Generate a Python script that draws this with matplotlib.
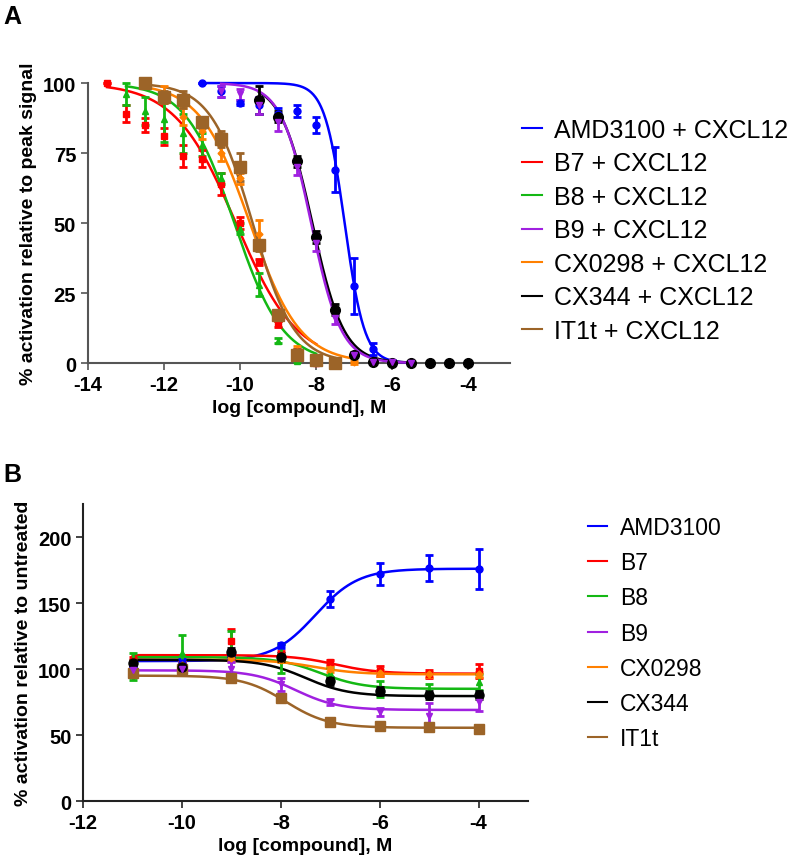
import numpy as np
import matplotlib
matplotlib.use("Agg")
import matplotlib.pyplot as plt
from matplotlib.lines import Line2D

plt.rcParams['font.family'] = ['Liberation Sans', 'DejaVu Sans']
plt.rcParams['axes.unicode_minus'] = False

# ---------------- Panel A data ----------------
a_names = ["AMD3100 + CXCL12", "B7 + CXCL12", "B8 + CXCL12", "B9 + CXCL12",
           "CX0298 + CXCL12", "CX344 + CXCL12", "IT1t + CXCL12"]
colors = ["#0000ff", "#ff0000", "#14b814", "#a020e0", "#ff8000", "#000000", "#9c6428"]
markers = ["o", "s", "^", "v", "D", "o", "s"]
msizes_a = [5, 5, 5, 5, 3.5, 7, 9]
msizes_b = [5, 5, 5, 5, 3.5, 6.5, 7.5]

a_blue_x = [-11, -10.5, -10, -9.5, -9, -8.5, -8, -7.5, -7, -6.5, -6, -5.5]
a_blue_y = [100, 97, 93, 92, 89, 90, 85, 69, 27.5, 5, 0.5, 0]
a_blue_e = [0, 2, 1, 3, 2, 2, 3, 8, 10, 2, 0.5, 0]

a_red_x = [-13.5, -13, -12.5, -12, -11.5, -11, -10.5, -10, -9.5, -9, -8.5, -8]
a_red_y = [100, 89, 85, 81, 74, 73, 64, 50, 36, 14, 4, 0]
a_red_e = [0, 3, 2.5, 3, 4, 3, 4, 2, 1, 1, 1, 0.5]

a_green_x = [-13, -12.5, -12, -11.5, -11, -10.5, -10, -9.5, -9, -8.5]
a_green_y = [96, 90, 87, 82, 78, 66, 48, 28, 8, 0.7]
a_green_e = [4, 5, 8, 7, 4, 2, 2, 4, 1, 0.5]

a_purple_x = [-10.5, -10, -9.5, -9, -8.5, -8, -7.5, -7, -6.5, -6, -5.5]
a_purple_y = [97, 96, 92, 86, 70, 43, 16, 3, 0.5, 0.3, 0]
a_purple_e = [2, 2, 3, 3, 3, 3, 2, 1, 0.5, 0.5, 0]

a_orange_x = [-12.5, -12, -11.5, -11, -10.5, -10, -9.5, -9, -8.5, -8, -7]
a_orange_y = [100, 96, 88, 83, 75, 66, 46, 17, 4, 1, 0.3]
a_orange_e = [0, 3, 3, 3, 3, 2, 5, 2, 2, 1, 0.5]

a_black_x = [-9.5, -9, -8.5, -8, -7.5, -7, -6.5, -6, -5.5, -5, -4.5, -4]
a_black_y = [94, 88, 72, 45, 19, 3, 0.5, 0, 0, 0, 0, 0]
a_black_e = [5, 2, 2, 2, 2, 1, 0, 0, 0, 0, 0, 0]

a_brown_x = [-12.5, -12, -11.5, -11, -10.5, -10, -9.5, -9, -8.5, -8, -7.5]
a_brown_y = [100, 95, 94, 86, 80, 70, 42, 17, 3, 1, 0]
a_brown_e = [0.5, 2, 3, 2, 3, 5, 2, 2, 2, 1, 0.5]

# fitted-curve parameters
a_fit_top = [100, 100, 100, 100, 100, 100, 100]
a_fit_bottom = [0, 0, 0, 0, 0, 0, 0]
a_fit_logic50 = [-7.25, -10.11, -10.15, -8.13, -9.74, -8.1, -9.67]
a_fit_hill = [1.66, 0.54, 0.68, 1.1, 0.66, 1.05, 0.79]
a_fit_xmin = [-11, -13.5, -13, -10.5, -12.5, -9.5, -12.5]
a_fit_xmax = [-5.5, -8, -8, -5.5, -7, -5.5, -7.5]

# ---------------- Panel B data ----------------
b_names = ["AMD3100", "B7", "B8", "B9", "CX0298", "CX344", "IT1t"]
b_x = [-11, -10, -9, -8, -7, -6, -5, -4]
b_blue_y = [102, 104.5, 111, 118, 153, 172, 176.5, 176]
b_blue_e = [3, 3, 3, 2, 6, 8, 10, 15]
b_red_y = [106, 102, 121, 111, 105, 98.5, 96, 98.5]
b_red_e = [3, 3, 9, 3, 2, 4, 3, 5]
b_green_y = [102, 112, 112, 108, 97, 85, 83.5, 90]
b_green_e = [10, 14, 17, 11, 4, 6, 5, 6]
b_purple_y = [99, 100, 100, 88.5, 75, 67.5, 64.5, 75]
b_purple_e = [3, 2, 5, 5, 2, 3, 10, 7]
b_orange_y = [105, 103, 108, 107, 100, 97, 96, 96]
b_orange_e = [2, 2, 2, 2, 2, 2, 2, 2]
b_black_y = [104.5, 101.5, 113, 109, 91, 83.5, 80, 80]
b_black_e = [2, 2, 3, 3, 3, 3, 3, 3]
b_brown_y = [97, 100, 93, 78, 60, 57, 56, 54.5]
b_brown_e = [2, 2, 2, 2, 1, 1, 1, 1]

b_fit_top = [176, 110.5, 109, 99, 107, 107, 95]
b_fit_bottom = [106, 96.5, 85, 69, 96, 79.5, 55.5]
b_fit_logec50 = [-7.3, -6.9, -7.2, -7.7, -7.3, -7.5, -7.9]
b_fit_hill = [-1.0, 1.0, 1.0, 1.0, 1.0, 1.0, 1.0]

a_series = [(a_blue_x, a_blue_y, a_blue_e), (a_red_x, a_red_y, a_red_e),
            (a_green_x, a_green_y, a_green_e), (a_purple_x, a_purple_y, a_purple_e),
            (a_orange_x, a_orange_y, a_orange_e), (a_black_x, a_black_y, a_black_e),
            (a_brown_x, a_brown_y, a_brown_e)]
b_series = [(b_blue_y, b_blue_e), (b_red_y, b_red_e), (b_green_y, b_green_e),
            (b_purple_y, b_purple_e), (b_orange_y, b_orange_e), (b_black_y, b_black_e),
            (b_brown_y, b_brown_e)]
draw_order = [0, 1, 2, 4, 6, 5, 3]


def logistic(x, top, bottom, c, h):
    return bottom + (top - bottom) / (1 + 10 ** ((x - c) * h))


fig = plt.figure(figsize=(8, 8.62), dpi=100)

tick_fs = 14.5
lab_fs = 14

# ---------------- Panel A ----------------
axA = fig.add_axes([0.11, 0.5777, 0.5275, 0.3248])
spine_col = "#555555"
for k, i in enumerate(draw_order):
    x, y, e = a_series[i]
    xs = np.linspace(a_fit_xmin[i], a_fit_xmax[i], 300)
    axA.plot(xs, logistic(xs, a_fit_top[i], a_fit_bottom[i], a_fit_logic50[i], a_fit_hill[i]),
             color=colors[i], lw=1.8, clip_on=False, zorder=3 + 0.01 * k)
    axA.errorbar(x, y, yerr=e, fmt=markers[i], color=colors[i], ms=msizes_a[i],
                 capsize=3, elinewidth=2, capthick=2, clip_on=False, zorder=4 + 0.01 * k)
axA.set_xlim(-14, -2.9)
axA.set_ylim(0, 100)
axA.set_xticks([-14, -12, -10, -8, -6, -4])
axA.set_yticks([0, 25, 50, 75, 100])
axA.spines['top'].set_visible(False)
axA.spines['right'].set_visible(False)
for s in ['left', 'bottom']:
    axA.spines[s].set_color(spine_col)
    axA.spines[s].set_linewidth(1.5)
axA.tick_params(colors=spine_col, labelcolor='black', width=1.2, length=5,
                labelsize=tick_fs)
for lab in axA.get_xticklabels() + axA.get_yticklabels():
    lab.set_fontweight('bold')
axA.set_xlabel("log [compound], M", fontsize=lab_fs, fontweight='bold', labelpad=4)
axA.set_ylabel("% activation relative to peak signal", fontsize=lab_fs, fontweight='bold',
               labelpad=4)

handlesA = [Line2D([0], [0], color=c, lw=1.5) for c in colors]
fig.legend(handlesA, a_names, loc='upper left', bbox_to_anchor=(0.652, 0.862),
           frameon=False, fontsize=18, handlelength=0.8, handletextpad=0.5,
           labelspacing=0.38, borderaxespad=0, borderpad=0)

# ---------------- Panel B ----------------
axB = fig.add_axes([0.104, 0.0696, 0.556, 0.3445])
xs = np.linspace(-11, -4, 300)
for k, i in enumerate(draw_order):
    y, e = b_series[i]
    axB.plot(xs, logistic(xs, b_fit_top[i], b_fit_bottom[i], b_fit_logec50[i], b_fit_hill[i]),
             color=colors[i], lw=1.8, zorder=3 + 0.01 * k)
    axB.errorbar(b_x, y, yerr=e, fmt=markers[i], color=colors[i], ms=msizes_b[i],
                 capsize=3, elinewidth=2, capthick=2, zorder=4 + 0.01 * k)
axB.set_xlim(-12, -3)
axB.set_ylim(0, 225)
axB.set_xticks([-12, -10, -8, -6, -4])
axB.set_yticks([0, 50, 100, 150, 200])
axB.spines['top'].set_visible(False)
axB.spines['right'].set_visible(False)
for s in ['left', 'bottom']:
    axB.spines[s].set_color("#222222")
    axB.spines[s].set_linewidth(1.5)
axB.tick_params(colors="#222222", labelcolor='black', width=1.2, length=5,
                labelsize=tick_fs)
for lab in axB.get_xticklabels() + axB.get_yticklabels():
    lab.set_fontweight('bold')
axB.set_xlabel("log [compound], M", fontsize=lab_fs, fontweight='bold', labelpad=4)
axB.set_ylabel("% activation relative to untreated", fontsize=lab_fs, fontweight='bold',
               labelpad=4)

handlesB = [Line2D([0], [0], color=c, lw=1.5) for c in colors]
fig.legend(handlesB, b_names, loc='upper left', bbox_to_anchor=(0.735, 0.400),
           frameon=False, fontsize=16.5, handlelength=0.85, handletextpad=0.55,
           labelspacing=0.53, borderaxespad=0, borderpad=0)

fig.text(0.004, 0.994, "A", fontsize=18, fontweight='bold', va='top', ha='left')
fig.text(0.004, 0.463, "B", fontsize=18, fontweight='bold', va='top', ha='left')

fig.savefig("out.png", dpi=100)
